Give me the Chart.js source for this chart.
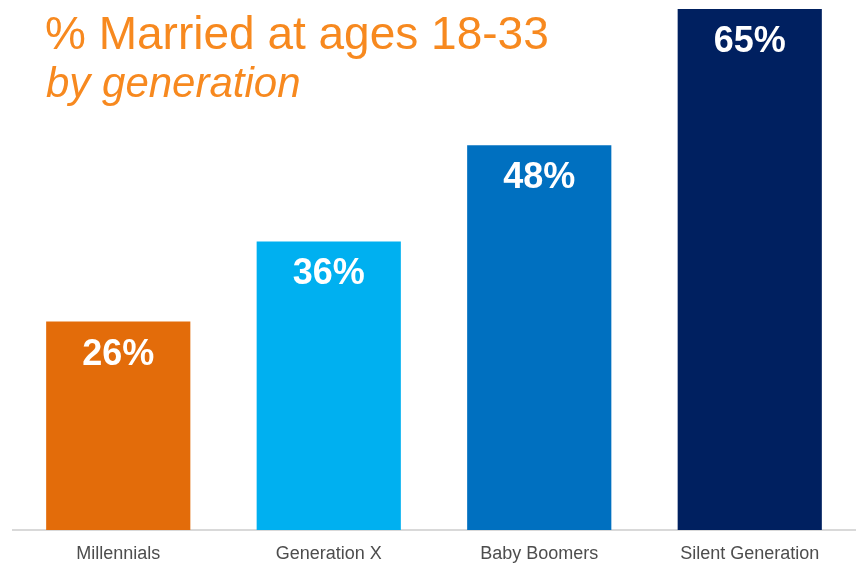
<!DOCTYPE html>
<html>
<head>
<meta charset="utf-8">
<script src="https://cdn.jsdelivr.net/npm/chart.js@4/dist/chart.umd.min.js"></script>
<style>
  html, body { margin: 0; padding: 0; background: #fff; }
  #wrap { position: relative; width: 862px; height: 567px; }
</style>
</head>
<body>
<div id="wrap"><canvas id="marriedChart"></canvas></div>
<script>
// Share married at ages 18-33, by generation
const generations = ['Millennials', 'Generation X', 'Baby Boomers', 'Silent Generation'];
const marriedPct  = [26, 36, 48, 65];
const barColors   = ['#E36C0A', '#00B0F0', '#0070C0', '#002060'];
const titleLines  = ['% Married at ages 18-33', 'by generation'];

// white % labels inside the top of each bar
const barLabels = {
    id: 'barLabels',
    afterDatasetsDraw(chart) {
        const ctx = chart.ctx;
        const meta = chart.getDatasetMeta(0);
        ctx.save();
        ctx.fillStyle = '#ffffff';
        ctx.font = 'bold 36px "Liberation Sans", Arial, sans-serif';
        ctx.textAlign = 'center';
        ctx.textBaseline = 'middle';
        meta.data.forEach((bar, i) => {
            ctx.fillText(marriedPct[i] + '%', bar.x, bar.y + 33);
        });
        ctx.restore();
    }
};

// orange two-line heading in the top-left corner
const heading = {
    id: 'heading',
    afterDraw(chart) {
        const ctx = chart.ctx;
        ctx.save();
        ctx.fillStyle = '#F7891F';
        ctx.textAlign = 'left';
        ctx.textBaseline = 'alphabetic';
        ctx.font = '46px "Liberation Sans", Arial, sans-serif';
        ctx.fillText(titleLines[0], 45, 49);
        ctx.font = 'italic 42px "Liberation Sans", Arial, sans-serif';
        ctx.fillText(titleLines[1], 46, 97);
        ctx.restore();
    }
};

new Chart(document.getElementById('marriedChart'), {
    type: 'bar',
    data: {
        labels: generations,
        datasets: [{
            data: marriedPct,
            backgroundColor: barColors,
            borderWidth: 0,
            barPercentage: 0.685,
            categoryPercentage: 1
        }]
    },
    options: {
        responsive: true,
        maintainAspectRatio: false,
        animation: false,
        layout: { padding: { top: 9, left: 13, right: 7, bottom: 0 } },
        plugins: {
            legend: { display: false },
            tooltip: { enabled: false }
        },
        scales: {
            y: { display: false, min: 0, max: 65 },
            x: {
                grid: { display: false, drawTicks: false },
                border: { display: true, color: '#D9D9D9', width: 2 },
                ticks: {
                    color: '#4D4D4D',
                    font: { family: '"Liberation Sans", Arial, sans-serif', size: 18 },
                    padding: 13
                },
                afterFit(scale) { scale.height = 37; }
            }
        }
    },
    plugins: [barLabels, heading]
});
</script>
</body>
</html>
